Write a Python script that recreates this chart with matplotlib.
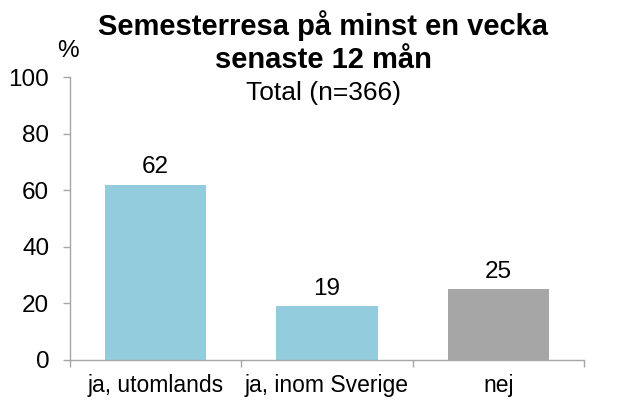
import matplotlib
matplotlib.use("Agg")
import matplotlib.pyplot as plt
import numpy as np

categories = ["ja, utomlands", "ja, inom Sverige", "nej"]
values = [62, 19, 25]
colors = ["#93CDDD", "#93CDDD", "#A6A6A6"]
yticks = [0, 20, 40, 60, 80, 100]

plt.rcParams['font.family'] = ['Liberation Sans', 'DejaVu Sans']
W, H = 624, 403
fig = plt.figure(figsize=(W/100, H/100), dpi=100)
ax = fig.add_axes([70/W, (H-360)/H, (584-70)/W, (360-77)/H])

x = np.arange(len(categories))
ax.bar(x, values, width=0.59, color=colors)
for xi, v in zip(x, values):
    ax.annotate(f"{v}", (xi, v), xytext=(0, 8), textcoords="offset points",
                ha="center", va="baseline", fontsize=17.5)

ax.set_xlim(-0.5, len(categories) - 0.5)
ax.set_ylim(0, 100)
ax.set_yticks(yticks)
ax.tick_params(axis='y', labelsize=17.5, length=5, color="#A6A6A6", width=1, pad=10)
ax.set_xticks(x)
ax.set_xticklabels(categories)
ax.tick_params(axis='x', which='major', length=0, labelsize=16.5, pad=10)
ax.set_xticks(np.arange(-0.5, len(categories)), minor=True)
ax.tick_params(axis='x', which='minor', length=5, color="#A6A6A6", width=1)

for s in ["top", "right"]:
    ax.spines[s].set_visible(False)
for s in ["left", "bottom"]:
    ax.spines[s].set_color("#A6A6A6")
    ax.spines[s].set_linewidth(1)

cx = 323/W
fig.text(cx, 1 - 35/H, "Semesterresa på minst en vecka", ha="center", va="baseline",
         fontsize=21, fontweight="bold")
fig.text(cx, 1 - 68/H, "senaste 12 mån", ha="center", va="baseline",
         fontsize=21, fontweight="bold")
fig.text(cx, 1 - 100/H, "Total (n=366)", ha="center", va="baseline", fontsize=19)
fig.text(68/W, 1 - 51/H, "%", ha="center", va="center", fontsize=17.5)

fig.savefig("out.png", dpi=100)
